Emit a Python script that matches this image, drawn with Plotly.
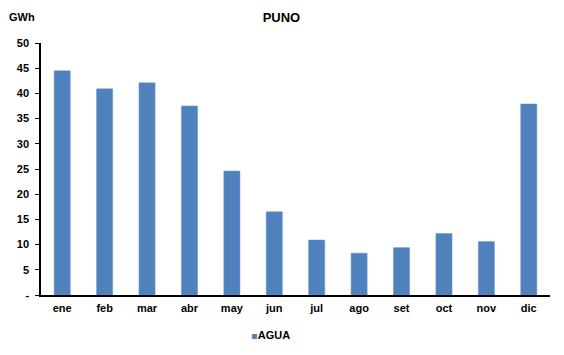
import plotly.graph_objects as go

months = ["ene", "feb", "mar", "abr", "may", "jun", "jul", "ago", "set", "oct", "nov", "dic"]
agua = [44.5, 40.9, 42.1, 37.5, 24.6, 16.5, 10.9, 8.3, 9.4, 12.2, 10.6, 37.9]
y_ticks = [0, 5, 10, 15, 20, 25, 30, 35, 40, 45, 50]
y_ticktext = ["-", "5", "10", "15", "20", "25", "30", "35", "40", "45", "50"]
series_name = "AGUA"

FONT = "Liberation Sans, Arial, sans-serif"
BLUE = "#4f81bd"

fig = go.Figure()
fig.add_trace(go.Bar(
    x=months, y=agua, name=series_name, showlegend=False,
    marker=dict(color=BLUE, line=dict(color="#6a95cc", width=0.5)),
    width=0.38,
))
# legend entry: small square drawn inline with the label
fig.add_trace(go.Scatter(
    x=[None], y=[None], mode="markers",
    name='<span style="color:%s;font-family:DejaVu Sans;font-size:10px">▪</span><b>%s</b>' % (BLUE, series_name),
    marker=dict(symbol="square", size=1, color="rgba(0,0,0,0)"), showlegend=True,
))

fig.update_layout(
    width=564, height=355,
    margin=dict(l=41, r=14, t=43, b=60, autoexpand=False),
    paper_bgcolor="white", plot_bgcolor="white",
    font=dict(family=FONT, size=11, color="black"),
    title=dict(text="<b>PUNO</b>", x=0.499, xanchor="center", y=0.952, yanchor="middle",
               font=dict(family=FONT, size=13, color="black")),
    showlegend=True,
    legend=dict(orientation="h", x=0.334, xanchor="left", y=-0.159, yanchor="middle",
                font=dict(family=FONT, size=11, color="black"), itemwidth=30,
                bgcolor="rgba(0,0,0,0)"),
)
fig.update_xaxes(
    showline=True, linecolor="black", linewidth=1.5, ticks="", showgrid=False,
    tickfont=dict(family=FONT, size=11, color="black"),
    ticklabelstandoff=2, automargin=False,
    ticktext=["<b>" + m + "</b>" for m in months], tickvals=months,
)
fig.update_yaxes(
    range=[0, 50], tickvals=y_ticks, ticktext=["<b>" + t + "</b>" for t in y_ticktext],
    showline=True, linecolor="black", linewidth=1.5, ticks="outside", ticklen=4,
    tickcolor="black", showgrid=False, zeroline=False, automargin=False,
    ticklabelstandoff=4,
    tickfont=dict(family=FONT, size=11, color="black"),
)
fig.add_annotation(text="<b>GWh</b>", xref="paper", yref="paper", x=-0.067, y=1.103,
                   xanchor="left", yanchor="middle", showarrow=False,
                   font=dict(family=FONT, size=11, color="black"))

fig.write_html("out.html")
